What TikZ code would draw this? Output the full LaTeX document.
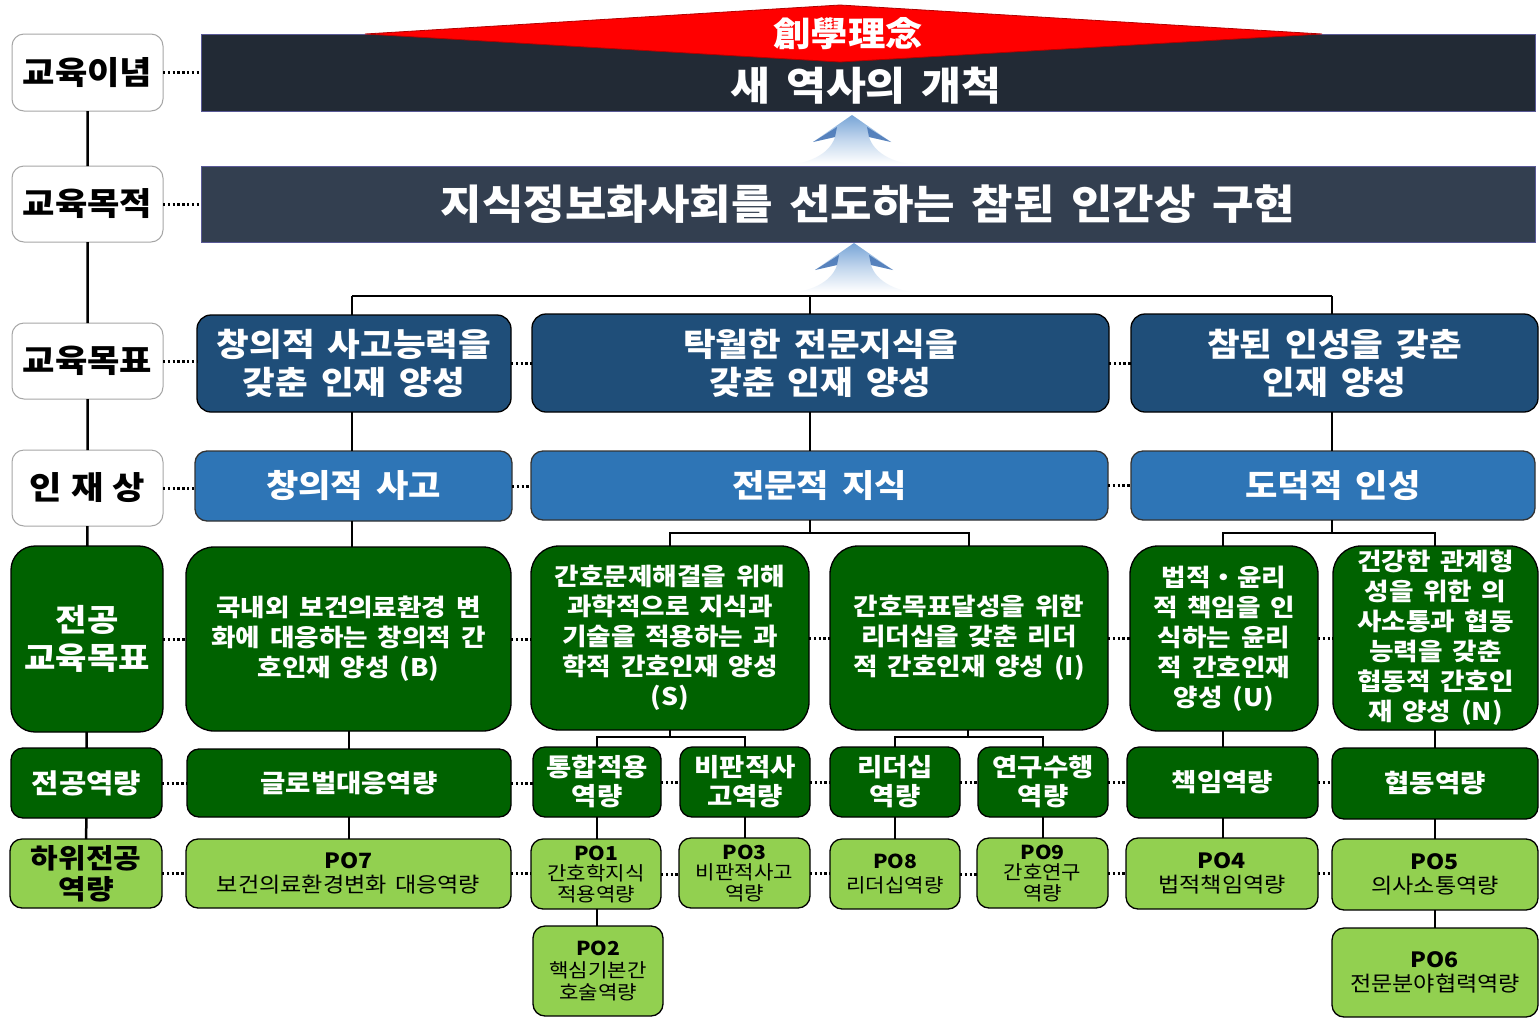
\documentclass[tikz,border=0pt]{standalone}
\usepackage{fontspec}
\setmainfont{Noto Sans CJK KR}[WordSpace=1.6, FakeStretch=1.1]
\usetikzlibrary{calc}
\definecolor{banA}{RGB}{34,42,53}
\definecolor{banB}{RGB}{51,63,80}
\definecolor{goalc}{RGB}{31,78,121}
\definecolor{talc}{RGB}{46,117,182}
\definecolor{dgreen}{RGB}{0,98,0}
\definecolor{lgreen}{RGB}{146,208,80}
\definecolor{redc}{RGB}{255,0,0}
\definecolor{arrb}{RGB}{120,165,215}
\definecolor{arrd}{RGB}{55,105,175}
\newcommand\bx[7]{\node[#6, minimum width={(#4)-(#2)}, minimum height={(#5)-(#3)}] (#1) at ({((#2)+(#4))/2},{((#3)+(#5))/2}) {#7};}
\newcommand\uparr[2]{%
\begin{scope}[shift={(#1,#2)}]
\shade[top color=arrb, bottom color=white, middle color=arrb!45] (0,0) -- (-39,27) -- (-17,22) .. controls (-22,38) and (-40,46) .. (-56,49) -- (56,49) .. controls (40,46) and (22,38) .. (17,22) -- (39,27) -- cycle;
\fill[arrd, opacity=0.75] (-39,27) -- (-15,12) -- (-17,22) -- cycle;
\fill[arrd, opacity=0.75] (39,27) -- (15,12) -- (17,22) -- cycle;
\end{scope}}
\begin{document}
\begin{tikzpicture}[x=1pt,y=-1pt,
  every node/.style={inner sep=0pt, outer sep=0pt, align=center},
  lbl/.style={rounded corners=12pt, draw=black!35, fill=white, line width=1pt, text=black, font=\bfseries\fontsize{32}{38}\selectfont},
  ban/.style={draw=black!20!blue!30!gray, line width=1pt},
  gbox/.style={fill=goalc, draw=black, line width=1.3pt, rounded corners=14pt, text=white, font=\bfseries\fontsize{32.3}{38}\selectfont},
  ibox/.style={fill=talc, draw=black!80, line width=1.3pt, rounded corners=12pt, text=white, font=\bfseries\fontsize{32}{38}\selectfont},
  mbox/.style={fill=dgreen, draw=black, line width=1.3pt, rounded corners=28pt, text=white, font=\bfseries\fontsize{24.2}{30}\selectfont},
  cbox/.style={fill=dgreen, draw=black, line width=1.3pt, rounded corners=12pt, text=white, font=\bfseries\fontsize{25}{29}\selectfont},
  pbox/.style={fill=lgreen, draw=black, line width=1.3pt, rounded corners=12pt, text=black, font=\fontsize{19.2}{20.5}\selectfont},
  pboxw/.style={pbox, font=\fontsize{21}{24}\selectfont},
  conn/.style={line width=2.5pt, black},
  dots/.style={line width=3pt, black, dash pattern=on 2.4pt off 2.4pt}]
\useasboundingbox (0,0) rectangle (1540,1018);
\fill[white] (0,0) rectangle (1540,1018);

% left column
\bx{L1}{12}{34}{163}{111}{lbl}{교육이념}
\bx{L2}{12}{166}{163}{242}{lbl}{교육목적}
\bx{L3}{12}{323}{163}{399}{lbl}{교육목표}
\bx{L4}{12}{450}{163}{526}{lbl}{인\hspace{9pt}재\hspace{9pt}상}
\bx{L5}{11}{546}{163}{732}{mbox, rounded corners=24pt, font=\bfseries\fontsize{31}{38}\selectfont}{전공\\교육목표}
\bx{L6}{11}{748}{162}{818}{cbox, font=\bfseries\fontsize{27}{32}\selectfont}{전공역량}
\bx{L7}{10}{839}{162}{908}{pbox, font=\bfseries\fontsize{27.3}{31}\selectfont}{하위전공\\역량}

% banners
\bx{banA}{201}{34}{1535}{111}{ban, fill=banA}{}
\fill[redc, draw=red!70!black, line width=0.8pt] (365,34) -- (840,5) -- (1322,34) -- (840,62) -- cycle;
\node[text=white, font=\bfseries\fontsize{34}{40}\selectfont] (motto) at (848,34) {創學理念};
\node[text=white, font=\bfseries\fontsize{39.5}{46}\selectfont] (banAt) at (866,86) {새 역사의 개척};
\uparr{852}{115}
\bx{banB}{201}{166}{1535}{242}{ban, fill=banB, text=white, font=\bfseries\fontsize{41}{48}\selectfont}{지식정보화사회를 선도하는 참된 인간상 구현}
\uparr{854}{243}

% 교육목표
\bx{gA}{197}{315}{511}{412}{gbox}{창의적 사고능력을\\갖춘 인재 양성}
\bx{gB}{532}{314}{1109}{412}{gbox}{탁월한 전문지식을\\갖춘 인재 양성}
\bx{gC}{1131}{314}{1538}{412}{gbox}{참된 인성을 갖춘\\인재 양성}

% 인재상
\bx{iA}{195}{451}{512}{521}{ibox}{창의적 사고}
\bx{iB}{531}{451}{1108}{520}{ibox}{전문적 지식}
\bx{iC}{1131}{451}{1535}{520}{ibox}{도덕적 인성}

% 전공교육목표
\bx{mB}{186}{547}{511}{731}{mbox}{국내외 보건의료환경 변\\화에 대응하는 창의적 간\\호인재 양성 (B)}
\bx{mS}{531}{546}{809}{730}{mbox}{간호문제해결을 위해\\과학적으로 지식과\\기술을 적용하는 과\\학적 간호인재 양성\\(S)}
\bx{mI}{830}{546}{1108}{730}{mbox}{간호목표달성을 위한\\리더십을 갖춘 리더\\적 간호인재 양성 (I)}
\bx{mU}{1130}{546}{1318}{731}{mbox}{법적・윤리\\적 책임을 인\\식하는 윤리\\적 간호인재\\양성 (U)}
\bx{mN}{1333}{546}{1538}{730}{mbox}{건강한 관계형\\성을 위한 의\\사소통과 협동\\능력을 갖춘\\협동적 간호인\\재 양성 (N)}

% 전공역량
\bx{cG}{187}{749}{511}{817}{cbox}{글로벌대응역량}
\bx{c1}{533}{747}{661}{817}{cbox}{통합적용\\역량}
\bx{c3}{680}{747}{810}{817}{cbox}{비판적사\\고역량}
\bx{c8}{830}{747}{960}{817}{cbox}{리더십\\역량}
\bx{c9}{978}{747}{1108}{817}{cbox}{연구수행\\역량}
\bx{cU}{1127}{747}{1318}{818}{cbox}{책임역량}
\bx{cN}{1332}{748}{1538}{819}{cbox}{협동역량}

% 하위전공역량
\bx{p7}{186}{839}{511}{908}{pboxw}{\textbf{PO7}\\보건의료환경변화 대응역량}
\bx{p1}{531}{839}{661}{909}{pbox}{\textbf{PO1}\\간호학지식\\적용역량}
\bx{p3}{679}{838}{810}{908}{pbox}{\textbf{PO3}\\비판적사고\\역량}
\bx{p8}{830}{839}{960}{909}{pbox, font=\fontsize{19.2}{24}\selectfont}{\textbf{PO8}\\리더십역량}
\bx{p9}{977}{838}{1108}{908}{pbox}{\textbf{PO9}\\간호연구\\역량}
\bx{p4}{1126}{838}{1318}{909}{pboxw}{\textbf{PO4}\\법적책임역량}
\bx{p5}{1332}{839}{1538}{910}{pboxw}{\textbf{PO5}\\의사소통역량}
\bx{p2}{533}{926}{663}{1016}{pbox, font=\fontsize{19.2}{22}\selectfont}{\textbf{PO2}\\핵심기본간\\호술역량}
\bx{p6}{1332}{928}{1538}{1017}{pboxw}{\textbf{PO6}\\전문분야협력역량}

% tree coordinates
\coordinate (tA) at (352,296);
\coordinate (tB) at (810,296);
\coordinate (tC) at (1332,296);
\coordinate (jB) at (810,533);
\coordinate (jC) at (1332,533);
\coordinate (jS) at (670,737);
\coordinate (jI) at (968,737);
\coordinate (xG) at (349,0);
\coordinate (xU) at (1223,0);
\coordinate (xN) at (1435,0);
\coordinate (x1) at (597,0);
\coordinate (x3) at (745,0);
\coordinate (x8) at (895,0);
\coordinate (x9) at (1043,0);

% solid connectors
\draw[conn] (L1) -- (L2) (L2) -- (L3) (L3) -- (L4) (L4) -- (L5) (L5) -- (L6) (L6) -- (L7);
\draw[conn] (tA) -- (tC);
\draw[conn] (tA) -- (tA |- gA.north) (tB) -- (tB |- gB.north) (tC) -- (tC |- gC.north);
\draw[conn] (tA |- gA.south) -- (tA |- iA.north) (tB |- gB.south) -- (tB |- iB.north) (tC |- gC.south) -- (tC |- iC.north);
\draw[conn] (tA |- iA.south) -- (tA |- mB.north);
\draw[conn] (jB |- iB.south) -- (jB);
\draw[conn] (mS.north) |- (jB) -| (mI.north);
\draw[conn] (jC |- iC.south) -- (jC);
\draw[conn] (xU |- mU.north) |- (jC) -| (xN |- mN.north);
\draw[conn] (xG |- mB.south) -- (xG |- cG.north) (xG |- cG.south) -- (xG |- p7.north);
\draw[conn] (jS |- mS.south) -- (jS);
\draw[conn] (x1 |- c1.north) |- (jS) -| (x3 |- c3.north);
\draw[conn] (jI |- mI.south) -- (jI);
\draw[conn] (x8 |- c8.north) |- (jI) -| (x9 |- c9.north);
\draw[conn] (x1 |- c1.south) -- (x1 |- p1.north) (x1 |- p1.south) -- (x1 |- p2.north);
\draw[conn] (x3 |- c3.south) -- (x3 |- p3.north);
\draw[conn] (x8 |- c8.south) -- (x8 |- p8.north);
\draw[conn] (x9 |- c9.south) -- (x9 |- p9.north);
\draw[conn] (xU |- mU.south) -- (xU |- cU.north) (xU |- cU.south) -- (xU |- p4.north);
\draw[conn] (xN |- mN.south) -- (xN |- cN.north) (xN |- cN.south) -- (xN |- p5.north) (xN |- p5.south) -- (xN |- p6.north);

% dotted connectors
\draw[dots] (L1.east) -- (L1.east -| banA.west);
\draw[dots] (L2.east) -- (L2.east -| banB.west);
\draw[dots] (L3.east) -- (L3.east -| gA.west);
\draw[dots] (gA.east) -- (gA.east -| gB.west);
\draw[dots] (gB.east) -- (gB.east -| gC.west);
\draw[dots] (L4.east) -- (L4.east -| iA.west);
\draw[dots] (iA.east) -- (iA.east -| iB.west);
\draw[dots] (iB.east) -- (iB.east -| iC.west);
\draw[dots] (L5.east) -- (L5.east -| mB.west);
\draw[dots] (mB.east) -- (mB.east -| mS.west);
\draw[dots] (mS.east) -- (mS.east -| mI.west);
\draw[dots] (mI.east) -- (mI.east -| mU.west);
\draw[dots] (mU.east) -- (mU.east -| mN.west);
\draw[dots] (L6.east) -- (L6.east -| cG.west);
\draw[dots] (cG.east) -- (cG.east -| c1.west);
\draw[dots] (c1.east) -- (c1.east -| c3.west);
\draw[dots] (c3.east) -- (c3.east -| c8.west);
\draw[dots] (c8.east) -- (c8.east -| c9.west);
\draw[dots] (c9.east) -- (c9.east -| cU.west);
\draw[dots] (cU.east) -- (cU.east -| cN.west);
\draw[dots] (L7.east) -- (L7.east -| p7.west);
\draw[dots] (p7.east) -- (p7.east -| p1.west);
\draw[dots] (p1.east) -- (p1.east -| p3.west);
\draw[dots] (p3.east) -- (p3.east -| p8.west);
\draw[dots] (p8.east) -- (p8.east -| p9.west);
\draw[dots] (p9.east) -- (p9.east -| p4.west);
\draw[dots] (p4.east) -- (p4.east -| p5.west);
\end{tikzpicture}
\end{document}
